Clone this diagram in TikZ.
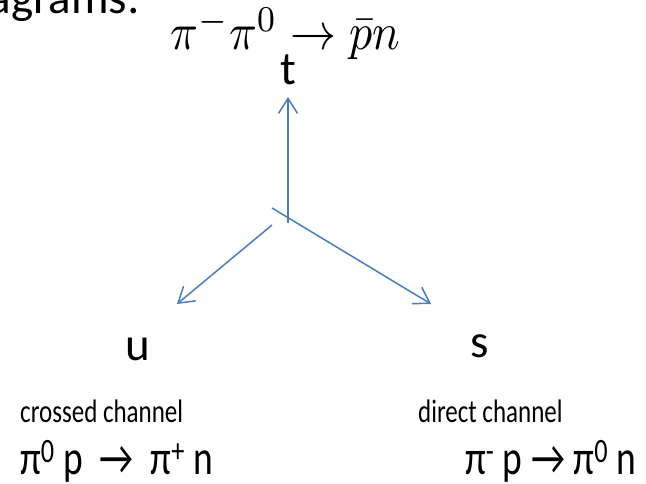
\documentclass[tikz,border=0pt]{standalone}
\usepackage{fontspec}
\setmainfont{Carlito}
\usetikzlibrary{arrows.meta}
\definecolor{chanblue}{RGB}{74,126,187}
\tikzset{
  channel/.style={
    draw=chanblue, line width=1.5pt,
    -{Straight Barb[length=15pt, width=19pt, line width=1.5pt]}
  },
  varlabel/.style={font=\fontsize{47}{50}\selectfont, inner sep=0pt},
  chanlabel/.style={font=\fontsize{25}{28}\selectfont, inner sep=0pt, anchor=base west},
  reaction/.style={font=\fontsize{37.5}{40}\selectfont, inner sep=0pt, anchor=base west}
}
\newcommand{\tallbox}[1]{\scalebox{1}[1.3]{#1}}

\begin{document}
\begin{tikzpicture}[x=1pt, y=-1pt]
\useasboundingbox (0,0) rectangle (646,484);
\clip (0,0) rectangle (646,484);

% heading, cut off by the slide edge
\node[varlabel, anchor=base east] (heading) at (140,14) {agrams:};

% process
\node[inner sep=0pt, anchor=base]
  (process) at (285,50) {\scalebox{4.6}[5.2]{$\pi^-\pi^0 \rightarrow \bar{p}n$}};

% ── Mandelstam variables ─────────────────────────────────
\node[varlabel, anchor=base] (tvar) at (288,85) {t};
\node[varlabel, anchor=base] (uvar) at (138,360) {u};
\node[varlabel, anchor=base] (svar) at (480,357) {s};

\coordinate (tfoot) at (288,223);
\coordinate (ttip)  at (288,97);
\coordinate (ufoot) at (272,225);
\coordinate (utip)  at (177,304);
\coordinate (sfoot) at (272,208);
\coordinate (stip)  at (431,304);

\draw[channel] (tfoot) -- (ttip);
\draw[channel] (ufoot) -- (utip);
\draw[channel] (sfoot) -- (stip);

% ── channels ─────────────────────────────────────────────
\node[chanlabel] (crossed) at (20,422)  {\tallbox{crossed channel}};
\node[chanlabel] (direct)  at (418,422) {\tallbox{direct channel}};

\node[reaction] (crossedproc) at (20,474)
  {\tallbox{π\textsuperscript{0} p \ → \ π\textsuperscript{+} n}};
\node[reaction] (directproc)  at (465,474)
  {\tallbox{π\textsuperscript{-} p → π\textsuperscript{0} n}};

\end{tikzpicture}
\end{document}
